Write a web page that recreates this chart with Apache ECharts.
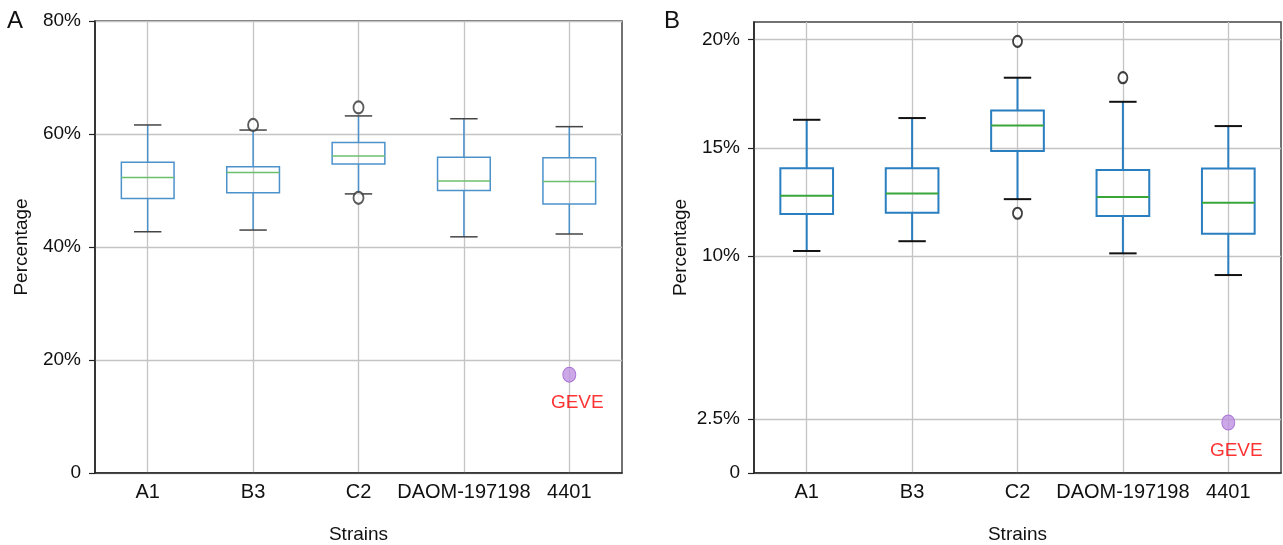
<!DOCTYPE html>
<html>
<head>
<meta charset="utf-8">
<script src="https://cdn.jsdelivr.net/npm/echarts@6/dist/echarts.min.js"></script>
<style>
  html, body { margin: 0; padding: 0; background: #fff; }
  #main { width: 1283px; height: 545px; }
</style>
</head>
<body>
<div id="main"></div>
<script>
// ==========================================================================
// Data
// ==========================================================================

var strains = ['A1', 'B3', 'C2', 'DAOM-197198', '4401'];

// Panel A: [lower whisker, Q1, median, Q3, upper whisker] per strain
var boxA = [
    [42.7, 48.6, 52.3, 55.0, 61.6],
    [43.0, 49.6, 53.2, 54.2, 60.7],
    [49.4, 54.7, 56.1, 58.5, 63.2],
    [41.8, 50.0, 51.7, 55.9, 62.7],
    [42.3, 47.6, 51.6, 55.8, 61.3]
];
var outliersA = [[1, 61.6], [2, 64.7], [2, 48.7]];
var geveA = [[4, 17.4]];
var ticksA = [0, 20, 40, 60, 80];

// Panel B
var boxB = [
    [10.24, 11.94, 12.79, 14.06, 16.29],
    [10.69, 12.00, 12.89, 14.06, 16.37],
    [12.63, 14.85, 16.03, 16.72, 18.23],
    [10.13, 11.85, 12.73, 13.98, 17.12],
    [9.13, 11.03, 12.46, 14.04, 16.00]
];
var outliersB = [[2, 19.91], [2, 11.98], [3, 18.23]];
var geveB = [[4, 2.33]];
var ticksB = [0, 2.5, 10, 15, 20];

// ==========================================================================
// Chart setup
// ==========================================================================

var chart = echarts.init(document.getElementById('main'));
var FONT = 'Liberation Sans';

function pctLabel(v) {
    return v === 0 ? '0' : v + '%';
}

// Box drawn by hand so caps and median can have their own colours
function makeBoxRenderer(boxColor, medianColor, capColor, width) {
    return function (params, api) {
        var x = api.value(0);
        var lo = api.coord([x, api.value(1)]);
        var q1 = api.coord([x, api.value(2)]);
        var md = api.coord([x, api.value(3)]);
        var q3 = api.coord([x, api.value(4)]);
        var hi = api.coord([x, api.value(5)]);
        var band = api.size([1, 0])[0];
        var half = band * 0.25;
        var cap = band * 0.13;
        var cx = lo[0];
        var boxStyle = { stroke: boxColor, lineWidth: width, fill: null };
        return {
            type: 'group',
            children: [
                { type: 'line', shape: { x1: cx, y1: q3[1], x2: cx, y2: hi[1] }, style: boxStyle },
                { type: 'line', shape: { x1: cx, y1: lo[1], x2: cx, y2: q1[1] }, style: boxStyle },
                { type: 'line', shape: { x1: cx - cap, y1: hi[1], x2: cx + cap, y2: hi[1] },
                  style: { stroke: capColor, lineWidth: width } },
                { type: 'line', shape: { x1: cx - cap, y1: lo[1], x2: cx + cap, y2: lo[1] },
                  style: { stroke: capColor, lineWidth: width } },
                { type: 'rect', shape: { x: cx - half, y: q3[1], width: half * 2, height: q1[1] - q3[1] },
                  style: boxStyle },
                { type: 'line', shape: { x1: cx - half, y1: md[1], x2: cx + half, y2: md[1] },
                  style: { stroke: medianColor, lineWidth: width } }
            ]
        };
    };
}

function xAxisFor(gridIndex) {
    return {
        type: 'category',
        gridIndex: gridIndex,
        data: strains,
        boundaryGap: true,
        name: 'Strains',
        nameLocation: 'middle',
        nameGap: 52,
        nameTextStyle: { fontSize: 19, color: '#111', fontFamily: FONT },
        axisLine: { lineStyle: { color: '#222', width: 1.5 } },
        axisTick: { interval: 0, alignWithLabel: true, length: 6, lineStyle: { color: '#222', width: 1.2 } },
        axisLabel: { interval: 0, fontSize: 20, color: '#111', margin: 9, fontFamily: FONT },
        splitLine: { show: true, interval: 0, alignWithLabel: true, lineStyle: { color: '#c4c4c4', width: 1.3 } }
    };
}

function yAxisFor(gridIndex, max, ticks) {
    return {
        type: 'value',
        gridIndex: gridIndex,
        min: 0,
        max: max,
        name: 'Percentage',
        nameLocation: 'middle',
        nameGap: 64,
        nameTextStyle: { fontSize: 19, color: '#111', fontFamily: FONT },
        axisLine: { show: true, lineStyle: { color: '#222', width: 1.5 } },
        axisTick: { show: true, length: 6, customValues: ticks, lineStyle: { color: '#222', width: 1.2 } },
        axisLabel: { fontSize: 19, color: '#111', margin: 14, fontFamily: FONT,
                     customValues: ticks, formatter: pctLabel },
        splitLine: { show: true, lineStyle: { color: '#c4c4c4', width: 1.3 } }
    };
}

function boxData(boxes) {
    return boxes.map(function (b, i) { return [i].concat(b); });
}

function geveSeries(idx, data) {
    return {
        type: 'scatter',
        xAxisIndex: idx,
        yAxisIndex: idx,
        data: data,
        symbol: 'circle',
        symbolSize: [13, 15],
        itemStyle: { color: '#c192e2', borderColor: '#9b5fd0', borderWidth: 1 },
        label: {
            show: true,
            position: 'bottom',
            distance: 11,
            offset: [8, 0],
            formatter: 'GEVE',
            color: '#ff0000',
            fontSize: 19,
            fontFamily: FONT
        },
        z: 6
    };
}

var option = {
    animation: false,
    textStyle: { fontFamily: FONT },
    grid: [
        { left: 95, right: 661, top: 21, bottom: 72, show: true, outerBoundsMode: 'none',
          borderColor: '#444', borderWidth: 1.5, backgroundColor: 'transparent' },
        { left: 754, right: 2, top: 22, bottom: 72, show: true, outerBoundsMode: 'none',
          borderColor: '#444', borderWidth: 1.5, backgroundColor: 'transparent' }
    ],
    graphic: [
        { type: 'text', left: 7, top: 9, style: { text: 'A', fontSize: 24, fill: '#111', fontFamily: FONT } },
        { type: 'text', left: 664, top: 9, style: { text: 'B', fontSize: 24, fill: '#111', fontFamily: FONT } }
    ],
    xAxis: [xAxisFor(0), xAxisFor(1)],
    yAxis: [yAxisFor(0, 80, ticksA), yAxisFor(1, 20.8, ticksB)],
    series: [
        {
            type: 'custom',
            xAxisIndex: 0,
            yAxisIndex: 0,
            data: boxData(boxA),
            renderItem: makeBoxRenderer('#4b92cc', '#6cc06c', '#444', 1.5),
            z: 3
        },
        {
            type: 'scatter',
            xAxisIndex: 0,
            yAxisIndex: 0,
            data: outliersA,
            symbol: 'emptyCircle',
            symbolSize: [10, 12],
            itemStyle: { color: '#333', borderWidth: 1.3 },
            z: 5
        },
        geveSeries(0, geveA),
        {
            type: 'custom',
            xAxisIndex: 1,
            yAxisIndex: 1,
            data: boxData(boxB),
            renderItem: makeBoxRenderer('#2a7fc0', '#3aa63a', '#111', 2),
            z: 3
        },
        {
            type: 'scatter',
            xAxisIndex: 1,
            yAxisIndex: 1,
            data: outliersB,
            symbol: 'emptyCircle',
            symbolSize: [9, 11],
            itemStyle: { color: '#111', borderWidth: 1.8 },
            z: 5
        },
        geveSeries(1, geveB)
    ]
};

chart.setOption(option);
</script>
</body>
</html>
